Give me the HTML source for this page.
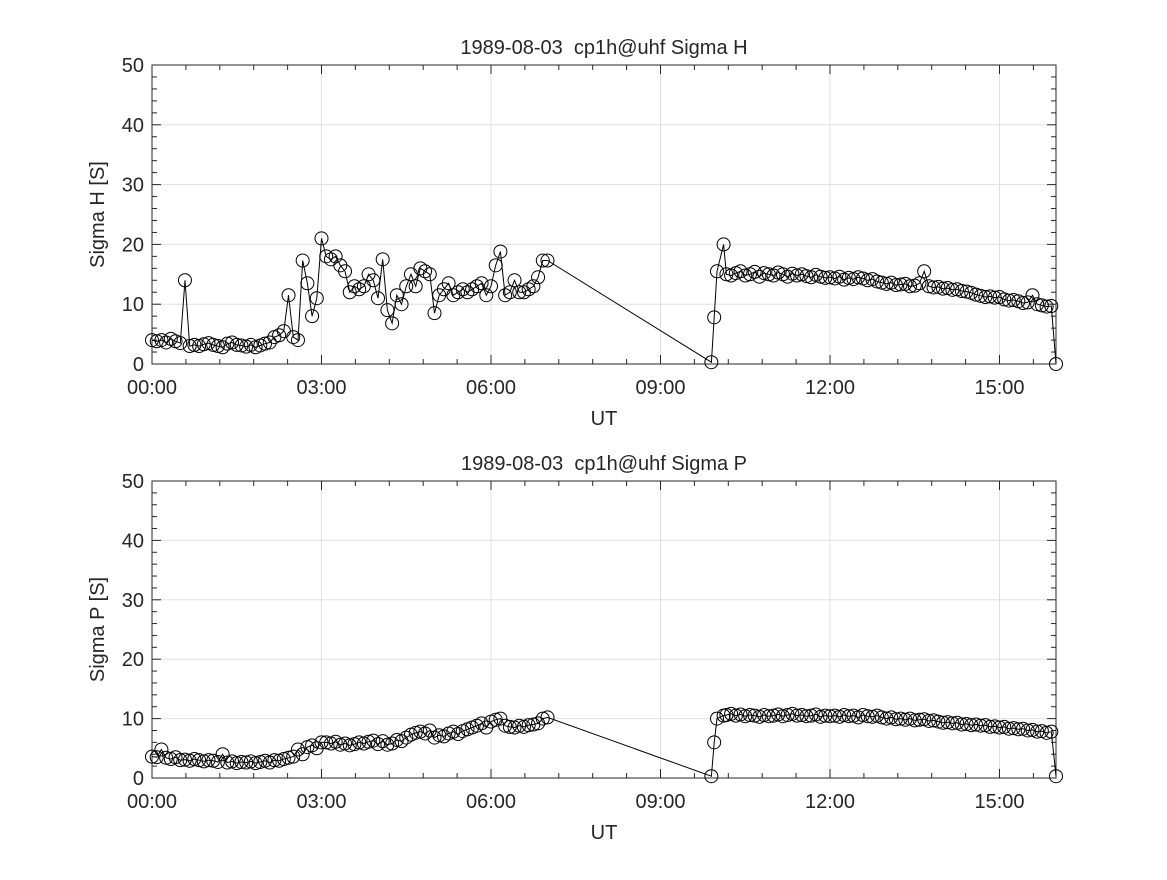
<!DOCTYPE html>
<html><head><meta charset="utf-8"><style>
body{margin:0;background:#fff;}
svg text{font-family:"Liberation Sans",sans-serif;fill:#262626;white-space:pre;}
</style></head><body>
<svg id="chart" width="1167" height="875" xmlns="http://www.w3.org/2000/svg"></svg>
<script>
const timesMin=[0,5,10,15,20,25,30,35,40,45,50,55,60,65,70,75,80,85,90,95,100,105,110,115,120,125,130,135,140,145,150,155,160,165,170,175,180,185,190,195,200,205,210,215,220,225,230,235,240,245,250,255,260,265,270,275,280,285,290,295,300,305,310,315,320,325,330,335,340,345,350,355,360,365,370,375,380,385,390,395,400,405,410,415,420,
594,597,600,607,610,615,620,625,630,635,640,645,650,655,660,665,670,675,680,685,690,695,700,705,710,715,720,725,730,735,740,745,750,755,760,765,770,775,780,785,790,795,800,805,810,815,820,825,830,835,840,845,850,855,860,865,870,875,880,885,890,895,900,905,910,915,920,925,930,935,940,945,950,955,960];
const sigmaH=[4,3.8,4,3.6,4.2,3.8,3.5,14,3,3.2,3,3.3,3.5,3.2,3,2.8,3.4,3.6,3.2,3.1,2.9,3.2,2.8,3.1,3.4,3.6,4.5,4.8,5.5,11.5,4.5,4,17.3,13.5,8,11,21,18,17.5,18,16.5,15.5,12,13,12.5,13,15,14,11,17.5,9,6.8,11.5,10,13,15,13,16,15.5,15,8.5,11.5,12.5,13.5,11.5,12,12.5,12,12.5,13,13.5,11.5,13,16.5,18.8,11.5,12,14,12,12,12.5,13,14.5,17.3,17.3,
0.3,7.8,15.5,20,
15,14.8,15.2,15.5,14.8,15,15.4,14.6,15.2,15,14.8,15.3,15,14.6,15.1,14.8,15,14.7,14.5,14.9,14.6,14.4,14.5,
14.3,14.6,14.1,14.4,14.2,14.5,14.3,14,14.2,13.8,13.6,13.4,13.6,13.2,13.3,13.4,13,13.1,13.5,15.5,
13,12.8,12.9,12.6,12.7,12.4,12.5,12.2,12.1,11.9,11.6,11.4,11.2,11.3,11.1,11.2,10.8,10.6,10.7,10.5,10.2,10.3,11.5,10,9.8,9.6,9.7,0];
const sigmaP=[3.6,3.5,4.8,3.4,3.2,3.5,3,3.1,2.9,3.2,3,2.8,3,
2.9,2.7,4,2.6,2.8,2.5,2.7,2.6,2.8,2.5,2.7,2.9,2.6,
3,2.9,3.2,3.4,3.6,4.8,4,5.2,5.5,5,6,
6,5.8,6.1,5.6,5.8,5.5,5.7,6,5.8,6.1,6.3,5.7,
6.2,5.6,5.8,6.4,6.2,6.8,7.3,7.6,7.8,7.5,8,6.8,
7.2,7,7.5,7.8,7.4,7.9,8.2,8.5,8.8,9.2,8.5,9.5,
9.8,10,8.8,8.6,8.5,8.8,8.6,8.9,9,9.2,10,10.2,
0.3,6,10,10.5,
10.6,10.8,10.5,10.7,10.4,10.6,10.5,10.3,10.6,10.4,10.5,10.7,10.4,10.6,10.8,10.5,10.6,10.4,10.5,10.7,10.3,10.5,10.4,
10.5,10.3,10.6,10.4,10.5,10.2,10.6,10.4,10.3,10.5,10.2,10,10.2,9.9,10,9.8,10,9.7,9.8,9.9,
9.6,9.7,9.5,9.3,9.4,9.2,9.3,9,9.1,8.9,9,8.8,8.9,8.6,8.7,8.5,8.6,8.3,8.4,8.2,8.3,8,8.1,7.8,7.9,7.6,7.8,0.3];
const xTickHours=[0,3,6,9,12,15];
const xTickLabels=["00:00","03:00","06:00","09:00","12:00","15:00"];
const yTicks=[0,10,20,30,40,50];

const NS="http://www.w3.org/2000/svg";
const svg=document.getElementById('chart');
function mk(tag,attrs,parent){const e=document.createElementNS(NS,tag);for(const k in attrs)e.setAttribute(k,attrs[k]);(parent||svg).appendChild(e);return e;}

function panel(top,bottom,vals,title,ylab,key){
  const L=152,R=1056,xmax=16,ymax=50;
  const X=h=>L+(R-L)*h/xmax, Y=v=>bottom-(bottom-top)*v/ymax;
  const g=mk('g',{});
  
  
  xTickHours.forEach(h=>{const l=mk('line',{x1:X(h),x2:X(h),y1:top,y2:bottom,stroke:'#e0e0e0','stroke-width':1},g);});
  yTicks.forEach(v=>{const l=mk('line',{x1:L,x2:R,y1:Y(v),y2:Y(v),stroke:'#e0e0e0','stroke-width':1},g);});
  for(let h=0;h<=xmax+1e-9;h+=0.6){const big=Math.abs(h/3-Math.round(h/3))<1e-6;const len=big?9:5;
    mk('line',{x1:X(h),x2:X(h),y1:bottom,y2:bottom-len,stroke:'#262626'},g);mk('line',{x1:X(h),x2:X(h),y1:top,y2:top+len,stroke:'#262626'},g);}
  for(let v=0;v<=ymax;v+=2){const big=v%10===0;const len=big?9:5;
    mk('line',{x1:L,x2:L+len,y1:Y(v),y2:Y(v),stroke:'#262626'},g);mk('line',{x1:R,x2:R-len,y1:Y(v),y2:Y(v),stroke:'#262626'},g);}
  const box=mk('rect',{x:L,y:top,width:R-L,height:bottom-top,fill:'none',stroke:'#262626','stroke-width':1},g);
  
  xTickHours.forEach((h,i)=>{const t=mk('text',{x:X(h),y:bottom+30,'text-anchor':'middle','font-size':20},g);t.textContent=xTickLabels[i];
    });
  yTicks.forEach(v=>{const t=mk('text',{x:L-8,y:Y(v)+7,'text-anchor':'end','font-size':20},g);t.textContent=v;
    });
  const tt=mk('text',{x:(L+R)/2,y:top-11,'text-anchor':'middle','font-size':20,fill:'#000'},g);tt.textContent=title;
  
  const xl=mk('text',{x:(L+R)/2,y:bottom+61,'text-anchor':'middle','font-size':20},g);xl.textContent='UT';
  
  const yc=(top+bottom)/2;
  const yl=mk('text',{x:104,y:yc,'text-anchor':'middle','font-size':20,transform:`rotate(-90 104 ${yc})`},g);yl.textContent=ylab;
  
  const pts=timesMin.map((m,i)=>X(m/60).toFixed(1)+','+Y(vals[i]).toFixed(1)).join(' ');
  const pl=mk('polyline',{points:pts,fill:'none',stroke:'#000','stroke-width':1},g);
  
  timesMin.forEach((m,i)=>{const c=mk('circle',{cx:X(m/60),cy:Y(vals[i]),r:6.5,fill:'none',stroke:'#000','stroke-width':1},g);
    });
}
panel(65,364,sigmaH,'1989-08-03  cp1h@uhf Sigma H','Sigma H [S]','sigma-h');
panel(481,778,sigmaP,'1989-08-03  cp1h@uhf Sigma P','Sigma P [S]','sigma-p');
</script>
</body></html>
